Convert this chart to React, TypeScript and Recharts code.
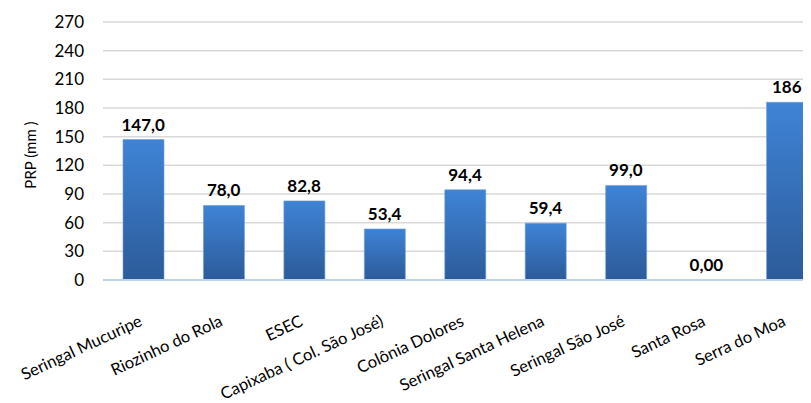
import { ComposedChart, Bar, Line, XAxis, YAxis, CartesianGrid, LabelList } from 'recharts';

const stations = [
  'Seringal Mucuripe',
  'Riozinho do Rola',
  'ESEC',
  'Capixaba ( Col. São José)',
  'Colônia Dolores',
  'Seringal Santa Helena',
  'Seringal São José',
  'Santa Rosa',
  'Serra do Moa',
];
const prp = [147.0, 78.0, 82.8, 53.4, 94.4, 59.4, 99.0, 0, 186];
const prpLabels = ['147,0', '78,0', '82,8', '53,4', '94,4', '59,4', '99,0', '0,00', '186'];
const yTicks = [0, 30, 60, 90, 120, 150, 180, 210, 240, 270];

const data = stations.map((name, i) => ({ name, prp: prp[i], label: prpLabels[i] }));

const FONT = 'Lato, "Open Sans", sans-serif';

function StationTick(props: any) {
  const { x, y, payload } = props;
  return (
    <g transform={`translate(${x},${y + 37})`}>
      <text
        textAnchor="end"
        transform="rotate(-25)"
        fontFamily={FONT}
        fontSize={16.5}
        fill="#000"
      >
        {payload.value}
      </text>
    </g>
  );
}

// labels hang off an invisible line so the zero bar still gets one
function ValueLabel(props: any) {
  const { x, y, value } = props;
  return (
    <text
      x={x}
      y={y - 9}
      textAnchor="middle"
      fontFamily={FONT}
      fontSize={17}
      fontWeight={700}
      fill="#000"
    >
      {value}
    </text>
  );
}

function AxisTitle(props: any) {
  const { viewBox } = props;
  const cx = viewBox.x + 22;
  const cy = viewBox.y + viewBox.height / 2 + 4;
  return (
    <text
      x={cx}
      y={cy}
      transform={`rotate(-90, ${cx}, ${cy})`}
      textAnchor="middle"
      dominantBaseline="central"
      fontFamily={FONT}
      fontSize={15}
      fill="#000"
    >
      PRP (mm )
    </text>
  );
}

export default function App() {
  return (
    <div style={{ width: 803, height: 395, overflow: 'hidden' }}>
      <ComposedChart
        width={819}
        height={395}
        data={data}
        margin={{ top: 14, right: 0, bottom: 0, left: 0 }}
      >
        <defs>
          <linearGradient id="barFill" x1="0" y1="0" x2="0" y2="1">
            <stop offset="0%" stopColor="#3f83d6" />
            <stop offset="100%" stopColor="#2c5b99" />
          </linearGradient>
        </defs>
        <CartesianGrid vertical={false} stroke="#d9d9d9" strokeWidth={1.5} />
        <XAxis
          dataKey="name"
          interval={0}
          height={123}
          tick={<StationTick />}
          tickLine={false}
          axisLine={{ stroke: '#bfd2ec', strokeWidth: 2 }}
        />
        <YAxis
          width={95}
          domain={[0, 270]}
          ticks={yTicks}
          tickLine={false}
          axisLine={false}
          tickMargin={13}
          tick={{ fontFamily: FONT, fontSize: 17, fill: '#000' }}
          label={<AxisTitle />}
        />
        <Bar
          dataKey="prp"
          barSize={41}
          fill="url(#barFill)"
          stroke="#6b9edc"
          strokeWidth={0.6}
          isAnimationActive={false}
        />
        <Line
          dataKey="prp"
          stroke="none"
          dot={false}
          activeDot={false}
          isAnimationActive={false}
        >
          <LabelList dataKey="label" content={<ValueLabel />} />
        </Line>
      </ComposedChart>
    </div>
  );
}
